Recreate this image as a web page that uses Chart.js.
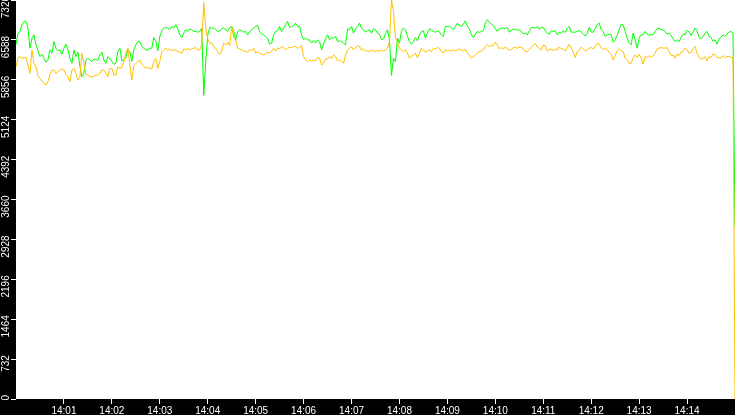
<!DOCTYPE html>
<html>
<head>
<meta charset="utf-8">
<style>
  html, body { margin: 0; padding: 0; background: #000; }
  #chart { display: block; }
</style>
<script src="https://cdn.jsdelivr.net/npm/chart.js@4/dist/chart.umd.min.js"></script>
</head>
<body>
<canvas id="chart" width="735" height="415"></canvas>
<script>
// ── Data (one sample every 2.5 s, 14:00:00 → 14:15:00) ───────────────────────
const SAMPLE_STEP = 2.5;
const END_SECONDS = 900;

const greenSeries = [
  // 14:00:00 – 14:03:05
  6497, 6712, 6743, 6866, 6927, 6927, 6804, 6435, 6620, 6681, 6497, 6386, 6282, 6325, 6251, 6177, 6220, 6405, 6343, 6558,
  6435, 6386, 6405, 6325, 6435, 6509, 6405, 6251, 6159, 6405, 6282, 6362, 6098, 5913, 5975, 6220, 6251, 6220, 6190, 6239,
  6220, 6220, 6312, 6362, 6220, 6159, 6282, 6251, 6190, 6140, 6159, 6374, 6435, 6202, 6220, 6263, 6405, 6374, 6190, 6405,
  6497, 6558, 6558, 6466, 6435, 6405, 6405, 6435, 6435, 6632, 6558, 6386, 6650, 6755, 6804,
  6816,
  // 14:03:10 – 14:06:05
  6804, 6773, 6835, 6804, 6866, 6792, 6681, 6632, 6712, 6773, 6743, 6792, 6773, 6743, 6743, 6730, 6743, 6804, 5568, 6190,
  6681, 6816, 6804, 6804, 6773, 6743, 6755, 6792, 6804, 6773, 6743, 6816, 6835, 6755, 6589, 6743, 6773, 6755, 6730, 6743,
  6681, 6743, 6773, 6804, 6835, 6853, 6743, 6694, 6681, 6650, 6620, 6509, 6528, 6681, 6743, 6755, 6835, 6743, 6804, 6866,
  6927, 6816, 6835, 6853, 6896, 6835, 6835, 6681, 6589, 6620, 6589,
  6589,
  // 14:06:10 – 14:09:05
  6528, 6571, 6528, 6589, 6558, 6405, 6509, 6607, 6681, 6589, 6632, 6620, 6650, 6558, 6571, 6558, 6528, 6497, 6792, 6773,
  6835, 6712, 6792, 6835, 6896, 6804, 6773, 6730, 6755, 6773, 6712, 6792, 6773, 6712, 6694, 6589, 6607, 6694, 6773, 6589,
  5937, 6251, 6190, 6620, 6528, 6743, 6804, 6773, 6650, 6558, 6509, 6558, 6632, 6571, 6681, 6743, 6755, 6620, 6712, 6792,
  6773, 6743, 6730, 6755, 6730, 6681, 6650, 6835, 6835, 6835, 6804, 6773, 6835,
  6896,
  // 14:09:10 – 14:12:05
  6853, 6835, 6878, 6939, 6835, 6792, 6681, 6632, 6694, 6743, 6724, 6743, 6755, 6896, 6958, 6915, 6878, 6853, 6792, 6743,
  6792, 6804, 6804, 6792, 6816, 6730, 6755, 6792, 6773, 6773, 6767, 6743, 6694, 6712, 6681, 6755, 6816, 6816, 6804, 6835,
  6786, 6816, 6816, 6755, 6712, 6694, 6755, 6743, 6755, 6681, 6730, 6706, 6755, 6724, 6804, 6835, 6730, 6730, 6730, 6743,
  6761, 6730, 6694, 6657, 6712, 6816, 6730, 6730, 6792, 6866, 6896,
  6774,
  // 14:12:10 – 14:15:00
  6743, 6651, 6682, 6694, 6682, 6547, 6590, 6669, 6774, 6879, 6866, 6743, 6620, 6528, 6497, 6713, 6590, 6436, 6620, 6682,
  6682, 6743, 6694, 6669, 6694, 6682, 6743, 6792, 6805, 6774, 6774, 6743, 6694, 6713, 6669, 6608, 6559, 6590, 6559, 6633,
  6694, 6682, 6768, 6731, 6669, 6731, 6805, 6756, 6633, 6608, 6651, 6713, 6743, 6651, 6633, 6559, 6590, 6510, 6608, 6633,
  6682, 6651, 6694, 6731, 6743, 6712, 3150
];

const orangeSeries = [
  // 14:00:00 – 14:03:05
  6097, 6263, 6282, 6251, 6263, 6263, 6128, 5975, 6405, 6159, 6097, 5931, 5882, 5833, 5790, 5759, 5821, 5943, 6036, 6036,
  5975, 6005, 6036, 6054, 6036, 5956, 5913, 5821, 6036, 6067, 5975, 5851, 5913, 6343, 6159, 5956, 5943, 5913, 5913, 5925,
  5943, 5943, 5975, 6036, 6036, 5975, 5913, 6067, 6067, 5943, 5943, 6097, 6067, 6079, 6190, 6343, 6435, 6128, 5851, 6116,
  6159, 6190, 6220, 6140, 6097, 6079, 6079, 6067, 6054, 6190, 6251, 6067, 6190, 6374, 6405,
  6435,
  // 14:03:10 – 14:06:05
  6405, 6423, 6386, 6405, 6405, 6374, 6362, 6343, 6423, 6405, 6435, 6405, 6423, 6435, 6448, 6405, 6405, 6497, 7270, 6804,
  6607, 6528, 6528, 6466, 6435, 6374, 6325, 6374, 6528, 6497, 6546, 6485, 6835, 6620, 6589, 6435, 6423, 6405, 6386, 6374,
  6362, 6405, 6405, 6435, 6343, 6374, 6343, 6325, 6312, 6343, 6362, 6343, 6386, 6435, 6386, 6435, 6423, 6466, 6448, 6405,
  6435, 6448, 6448, 6466, 6466, 6435, 6448, 6485, 6282, 6220, 6190,
  6220,
  // 14:06:10 – 14:09:05
  6202, 6220, 6202, 6263, 6251, 6128, 6159, 6239, 6239, 6282, 6251, 6312, 6282, 6202, 6220, 6190, 6159, 6312, 6405, 6435,
  6466, 6405, 6448, 6485, 6466, 6405, 6423, 6386, 6386, 6374, 6405, 6374, 6386, 6392, 6374, 6405, 6386, 6405, 6435, 6558,
  7320, 7111, 6620, 6558, 6435, 6405, 6374, 6405, 6343, 6251, 6282, 6312, 6343, 6263, 6343, 6435, 6405, 6362, 6386, 6405,
  6374, 6435, 6423, 6448, 6435, 6374, 6343, 6405, 6386, 6405, 6374, 6405, 6386,
  6405,
  // 14:09:10 – 14:12:05
  6423, 6405, 6386, 6417, 6343, 6312, 6251, 6282, 6312, 6343, 6374, 6386, 6405, 6466, 6497, 6466, 6485, 6485, 6546, 6497,
  6423, 6448, 6423, 6454, 6435, 6398, 6405, 6448, 6448, 6435, 6460, 6448, 6423, 6374, 6374, 6411, 6448, 6485, 6521, 6466,
  6423, 6405, 6497, 6478, 6386, 6411, 6423, 6386, 6423, 6405, 6460, 6423, 6423, 6386, 6448, 6509, 6435, 6374, 6263, 6374,
  6405, 6454, 6423, 6386, 6405, 6435, 6448, 6423, 6466, 6528, 6509,
  6448,
  // 14:12:10 – 14:15:00
  6405, 6436, 6405, 6362, 6325, 6221, 6301, 6387, 6424, 6387, 6374, 6252, 6221, 6159, 6159, 6264, 6313, 6264, 6325, 6264,
  6141, 6282, 6264, 6301, 6264, 6301, 6344, 6424, 6436, 6448, 6436, 6436, 6448, 6374, 6301, 6313, 6252, 6325, 6301, 6362,
  6374, 6436, 6405, 6344, 6356, 6424, 6467, 6344, 6264, 6239, 6239, 6282, 6202, 6282, 6264, 6331, 6313, 6264, 6264, 6252,
  6301, 6264, 6282, 6288, 6264, 6270, 0
];

const tickSeconds = [60, 120, 180, 240, 300, 360, 420, 480, 540, 600, 660, 720, 780, 840];
const tickLabels  = ['14:01', '14:02', '14:03', '14:04', '14:05', '14:06', '14:07',
                     '14:08', '14:09', '14:10', '14:11', '14:12', '14:13', '14:14'];
const Y_MAX  = 7320;
const Y_STEP = 732;

// ── Style ─────────────────────────────────────────────────────────────────────
const GREEN  = '#00ff00';
const ORANGE = '#ffc000';
const FONT   = { family: "'Liberation Sans', sans-serif", size: 10 };

// fond noir autour, zone de tracé blanche
const plotBg = {
  id: 'plotBg',
  beforeDraw(chart) {
    const { ctx, chartArea: a } = chart;
    ctx.save();
    ctx.fillStyle = '#000';
    ctx.fillRect(0, 0, chart.width, chart.height);
    ctx.fillStyle = '#fff';
    ctx.fillRect(a.left, a.top, a.right - a.left, a.bottom - a.top);
    ctx.restore();
  }
};

const toPoints = arr => arr.map((v, i) => ({ x: i * SAMPLE_STEP, y: v }));

new Chart(document.getElementById('chart'), {
  type: 'line',
  data: {
    datasets: [
      { label: 'orange', data: toPoints(orangeSeries), borderColor: ORANGE, order: 0 },
      { label: 'green',  data: toPoints(greenSeries),  borderColor: GREEN,  order: 1 },
    ],
  },
  options: {
    responsive: false,
    animation: false,
    events: [],
    layout: { padding: 0 },
    elements: {
      line:  { borderWidth: 1, tension: 0, fill: false },
      point: { radius: 0 },
    },
    plugins: {
      legend:  { display: false },
      tooltip: { enabled: false },
    },
    scales: {
      x: {
        type: 'linear',
        min: 0,
        max: END_SECONDS,
        afterBuildTicks: s => { s.ticks = tickSeconds.map(v => ({ value: v })); },
        afterFit: s => { s.height = 16; s.paddingLeft = 0; s.paddingRight = 0; },
        border: { display: false },
        grid: { drawOnChartArea: false, color: '#fff', tickLength: 5, tickWidth: 1 },
        ticks: {
          color: '#fff',
          font: FONT,
          padding: 1,
          autoSkip: false,
          maxRotation: 0,
          callback: v => tickLabels[tickSeconds.indexOf(v)] ?? '',
        },
      },
      y: {
        min: 0,
        max: Y_MAX,
        afterFit: s => { s.width = 16; s.paddingTop = 0; s.paddingBottom = 0; },
        border: { display: false },
        grid: { drawOnChartArea: false, color: '#fff', tickLength: 5, tickWidth: 1 },
        ticks: {
          color: '#fff',
          font: FONT,
          stepSize: Y_STEP,
          padding: 5,
          minRotation: 90,
          maxRotation: 90,
          labelOffset: -4,
          callback: v => String(v),
        },
      },
    },
  },
  plugins: [plotBg],
});
</script>
</body>
</html>
